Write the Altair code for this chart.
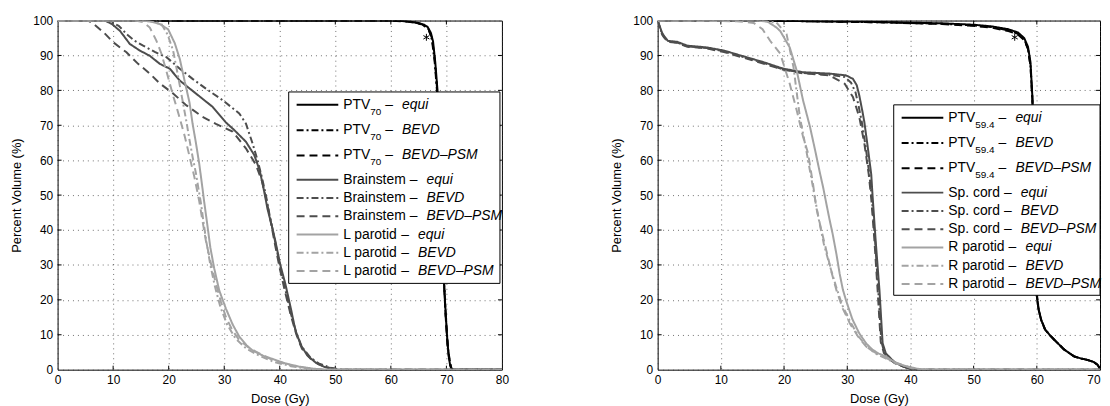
import altair as alt
import pandas as pd

# ---------------- data ----------------
# Left panel: PTV70, Brainstem, L parotid
L_PTV_EQUI_DOSE = [0, 60, 63, 65, 66, 66.6, 67.2, 67.6, 68.0, 68.4, 68.7, 69.0, 69.4, 69.8, 70.1, 70.4, 70.7, 71.0, 80]
L_PTV_EQUI_VOL = [100, 100, 99.8, 99.3, 98.8, 98.2, 96.5, 94, 88, 80, 60, 45, 30, 18, 10, 4, 1, 0, 0]
L_PTV_BEVD_DOSE = [0, 61, 64, 65.8, 66.8, 67.4, 67.9, 68.3, 68.7, 69.1, 69.5, 69.9, 70.3, 70.7, 71.1, 80]
L_PTV_BEVD_VOL = [100, 100, 99.6, 98.8, 97.5, 94.5, 88, 80, 62, 44, 28, 15, 6, 1.5, 0, 0]
L_PTV_PSM_DOSE = [0, 60, 63.5, 65.6, 66.7, 67.4, 67.9, 68.3, 68.6, 69.0, 69.4, 69.8, 70.2, 70.6, 71.0, 80]
L_PTV_PSM_VOL = [100, 100, 99.6, 98.9, 97.8, 95, 89, 81, 65, 48, 31, 17, 7, 2, 0, 0]

L_BS_EQUI_DOSE = [0, 8.5, 9.8, 11.25, 13, 14.8, 16.6, 18.4, 20.2, 22, 24.9, 27.9, 30.3, 31.7, 33.9, 35.4, 36.4, 37.2, 37.8, 38.6, 39.2, 40.1, 41, 42, 42.8, 43.8, 45, 46.5, 48, 50, 80]
L_BS_EQUI_VOL = [100, 100, 99, 97, 93.3, 91.4, 89.9, 87.6, 86.2, 82.8, 79.1, 75.3, 70.8, 68.8, 65.3, 61.5, 57, 51, 46, 41, 36.9, 30, 24.6, 17.5, 11.4, 7, 4, 2, 0.8, 0, 0]
L_BS_BEVD_DOSE = [0, 9, 11, 12.5, 13.9, 15.4, 17.5, 19.6, 22, 24.3, 26.7, 29.7, 32.7, 33.9, 35, 36, 36.8, 37.5, 38.2, 39, 40, 41, 42, 43, 44, 45.5, 47, 49, 51, 80]
L_BS_BEVD_VOL = [100, 100, 98.5, 96, 94.2, 92.8, 91, 89.5, 86.2, 83.3, 80.5, 77.2, 73.4, 70.5, 65.3, 60, 55, 50, 44, 38, 30, 23, 16, 10.5, 6.5, 3.5, 1.8, 0.6, 0, 0]
L_BS_PSM_DOSE = [0, 5.5, 6.5, 8.3, 10, 12.4, 14.5, 16.6, 18.4, 20.8, 23.2, 26.1, 28.5, 31.5, 33.9, 35.7, 36.8, 37.4, 38.2, 39, 40, 41, 42, 43, 44, 45.5, 47, 49, 51, 80]
L_BS_PSM_VOL = [100, 100, 99, 96.6, 93.8, 90.9, 87.6, 84.8, 82, 79.1, 75.7, 72.4, 70.4, 68.2, 63.4, 58.7, 54, 50, 44, 37, 29, 22, 15.5, 10, 6, 3.2, 1.5, 0.5, 0, 0]

L_PAR_EQUI_DOSE = [0, 14, 16.5, 18.4, 19.9, 21.1, 22, 22.9, 23.75, 24.3, 24.9, 25.5, 26, 26.4, 27, 27.5, 28.2, 29.1, 30.3, 31.5, 32.7, 34, 35.1, 37, 39.2, 41, 43.4, 46, 48, 80]
L_PAR_EQUI_VOL = [100, 100, 99.8, 99, 97.5, 93.5, 89, 82.5, 76.5, 70.5, 65, 59, 53, 48, 41, 35, 29, 22.7, 17.5, 13, 9.5, 7, 5.5, 4, 2.8, 1.8, 0.9, 0.3, 0, 0]
L_PAR_BEVD_DOSE = [0, 15, 17.5, 18.7, 19.8, 20.8, 21.7, 22.6, 23.2, 23.75, 24.3, 24.9, 25.4, 25.8, 26.3, 26.8, 27.5, 28.3, 29.3, 30.5, 32, 34, 36.3, 39, 42, 45, 48, 80]
L_PAR_BEVD_VOL = [100, 100, 99.6, 99, 96, 91.4, 84, 76.2, 71, 65.8, 61, 56.3, 51.5, 47.8, 42, 36.5, 30, 24, 18, 13, 9, 6, 4, 2.2, 1, 0.3, 0, 0]
L_PAR_PSM_DOSE = [0, 14, 15.5, 16.6, 17.8, 18.7, 19.5, 20.2, 20.8, 21.4, 22, 22.9, 23.75, 24.6, 25.5, 26.1, 26.7, 27.6, 28.5, 29.4, 30.3, 31.5, 32.7, 34.5, 36.3, 38.3, 40.4, 43, 46, 48, 80]
L_PAR_PSM_VOL = [100, 100, 99.5, 98, 94.2, 90.5, 86, 82, 78.5, 75.3, 72, 66.8, 61.1, 55.4, 48.3, 42.5, 36.9, 30.5, 24.6, 19.5, 15.1, 11.2, 8.5, 6.2, 4.7, 3.1, 1.9, 0.9, 0.2, 0, 0]

L_STAR_DOSE = [66.4]
L_STAR_VOL = [95.2]

# Right panel: PTV59.4, Sp. cord, R parotid
R_PTV_EQUI_DOSE = [0, 20, 35, 45, 50, 53, 55.5, 57, 58, 58.6, 59, 59.3, 59.5, 59.7, 59.9, 60.0, 60.3, 60.7, 61.3, 62, 62.8, 64.3, 65.9, 67, 68, 69, 69.6, 70]
R_PTV_EQUI_VOL = [100, 99.9, 99.6, 99.2, 98.8, 98.3, 97.5, 96.6, 95, 92.5, 88, 78, 65, 45, 28, 21, 17, 14.2, 11.5, 10, 8.5, 5.8, 3.8, 3.2, 2.8, 2.2, 1.4, 0.3]
R_PTV_BEVD_DOSE = [0, 20, 35, 45, 50, 53, 55.5, 57, 58, 58.6, 59, 59.3, 59.5, 59.7, 59.9, 60.05, 60.3, 60.7, 61.3, 62, 62.8, 64.3, 65.9, 67, 68, 69, 69.6, 70]
R_PTV_BEVD_VOL = [100, 99.9, 99.5, 99.1, 98.6, 98.1, 97.2, 96.2, 94.6, 92, 87, 77, 64, 44, 28, 21, 17.2, 14.3, 11.6, 10, 8.5, 5.8, 3.8, 3.2, 2.8, 2.2, 1.4, 0.3]
R_PTV_PSM_DOSE = [0, 20, 35, 45, 50, 53, 55.5, 57, 58, 58.6, 59, 59.3, 59.5, 59.7, 59.9, 60.0, 60.3, 60.7, 61.3, 62, 62.8, 64.3, 65.9, 67, 68, 69, 69.6, 70]
R_PTV_PSM_VOL = [100, 99.9, 99.5, 99.0, 98.5, 97.9, 97.0, 96.0, 94.4, 91.8, 87, 77.5, 64.5, 45, 28.5, 21, 17.1, 14.2, 11.5, 10, 8.5, 5.8, 3.8, 3.2, 2.8, 2.2, 1.4, 0.3]

R_SC_EQUI_DOSE = [0, 0.3, 0.7, 1, 1.6, 3.1, 4.7, 7.8, 10.5, 13.1, 16.7, 19.9, 23, 27.2, 29.8, 30.9, 31.5, 31.9, 32.4, 32.7, 33.2, 33.8, 34, 34.5, 35.1, 35.6, 36.1, 37, 37.7, 39, 40, 41, 70]
R_SC_EQUI_VOL = [100, 98.5, 96.5, 95.6, 94.2, 93.9, 92.8, 92.3, 91.4, 90, 88.1, 86.2, 85.2, 84.8, 84.3, 83.3, 81.5, 78.6, 74, 71, 64.4, 55.9, 50, 36.9, 22.7, 7.6, 4.7, 3, 1.9, 0.8, 0.2, 0, 0]
R_SC_BEVD_DOSE = [0, 0.3, 0.7, 1, 1.6, 3.1, 4.7, 7.8, 10.5, 13.1, 16.7, 19.9, 23, 27.2, 29.6, 30.6, 31.3, 31.8, 32.3, 32.9, 33.5, 33.9, 34.4, 34.9, 35.4, 35.9, 36.8, 37.6, 39, 40, 41, 70]
R_SC_BEVD_VOL = [100, 98.3, 96.2, 95.4, 94, 93.7, 92.6, 92.1, 91.2, 89.8, 87.9, 86, 85, 84.5, 83.8, 82.2, 79.5, 75.5, 71, 64, 56, 49, 37, 23, 8, 4.8, 3, 1.9, 0.8, 0.2, 0, 0]
R_SC_PSM_DOSE = [0, 0.3, 0.7, 1, 1.6, 3.1, 4.7, 7.8, 10.5, 13.1, 16.7, 19.9, 23, 27.2, 29.6, 30.9, 31.9, 32.7, 33.4, 33.8, 34.3, 34.8, 35.3, 35.8, 36.7, 37.5, 39, 40, 41, 70]
R_SC_PSM_VOL = [100, 98.2, 96, 95.2, 93.9, 93.6, 92.5, 92, 91, 89.6, 87.7, 85.9, 84.9, 84.3, 81.9, 78.1, 72.4, 64.9, 56, 49, 37, 23, 8, 4.8, 3, 1.9, 0.8, 0.2, 0, 0]

R_PAR_EQUI_DOSE = [0, 15, 17.3, 18.8, 19.4, 20.9, 22, 23, 24.1, 24.9, 25.6, 26.2, 26.7, 27.2, 27.7, 28.3, 28.8, 29.3, 29.8, 30.8, 31.9, 33, 34, 35, 36.1, 37.7, 39.5, 41, 42, 70]
R_PAR_EQUI_VOL = [100, 100, 99.8, 98, 97, 92.3, 85.7, 77.2, 69.6, 63, 57, 52.1, 47.5, 43, 38.8, 33, 27.5, 23, 19.9, 14.5, 10.4, 7.5, 5.7, 4.6, 3.8, 1.9, 0.9, 0.3, 0, 0]
R_PAR_BEVD_DOSE = [0, 16, 18.8, 20.4, 21.5, 22.5, 23.5, 24.3, 24.9, 25.5, 26.3, 27.2, 28.2, 29.2, 30.4, 31.8, 33.2, 34.6, 36, 37.7, 39.5, 41, 42, 70]
R_PAR_BEVD_VOL = [100, 100, 99.4, 96.1, 86.6, 72.4, 63, 55, 49, 43, 36, 30, 24, 18.5, 14, 9.5, 6.4, 4.5, 3.3, 1.8, 0.8, 0.2, 0, 0]
R_PAR_PSM_DOSE = [0, 12.5, 15.2, 16.6, 17.8, 19.4, 20.9, 22, 23, 23.8, 24.6, 25.1, 25.9, 26.7, 27.5, 28.3, 29.3, 30.4, 31.7, 33, 34.3, 35.6, 37, 38.5, 40, 41.5, 42.5, 70]
R_PAR_PSM_VOL = [100, 99.8, 99.3, 97.5, 94.2, 90.5, 81.9, 74.3, 66.8, 62, 53, 46.4, 40, 34.1, 28, 22.7, 17.5, 13.3, 9.5, 6.6, 5, 3.8, 2.6, 1.5, 0.6, 0.1, 0, 0]

R_STAR_DOSE = [56.5]
R_STAR_VOL = [95.2]

METHODS = ["equi", "BEVD", "BEVD\u2013PSM"]
LEFT_ORGANS = ["PTV", "Brainstem", "L parotid"]
LEFT_SUBS = ["70", "", ""]
RIGHT_ORGANS = ["PTV", "Sp. cord", "R parotid"]
RIGHT_SUBS = ["59.4", "", ""]
LEFT_X_TICKS = [0, 10, 20, 30, 40, 50, 60, 70, 80]
RIGHT_X_TICKS = [0, 10, 20, 30, 40, 50, 60, 70]
Y_TICKS = [0, 10, 20, 30, 40, 50, 60, 70, 80, 90, 100]

# ---------------- styles ----------------
ORGAN_COLORS = ["#000000", "#4d4d4d", "#a3a3a3"]
METHOD_DASHES = [[1, 0], [7, 3, 2, 3], [8, 5]]
FONT = "Liberation Sans"
PLOT_H = 352
TICK_PX = 4

CHAR_W = {'B': 667, 'r': 333, 'a': 556, 'i': 222, 'n': 556, 's': 500, 't': 278, 'e': 556,
          'm': 833, ' ': 278, 'L': 556, 'p': 556, 'o': 556, 'd': 556, 'P': 667, 'T': 611,
          'V': 667, 'S': 667, '.': 278, 'c': 500, 'R': 722, '\u2013': 556}


def text_w(s, size):
    return sum(CHAR_W.get(c, 556) for c in s) * size / 1000.0


def panel(curves, star, organs, subs, xmax, xticks, width, box, flush_last):
    kx = width / xmax
    ky = PLOT_H / 100.0
    if flush_last:
        label_align = {"condition": {"test": "datum.value == %d" % xmax, "value": "right"}, "value": "center"}
    else:
        label_align = "center"
    X = alt.X("dose:Q", scale=alt.Scale(domain=[0, xmax], nice=False, zero=False),
              axis=alt.Axis(values=xticks, title="Dose (Gy)", format="d", labelFlush=False,
                            labelAlign=label_align))
    Y = alt.Y("vol:Q", scale=alt.Scale(domain=[0, 100], nice=False, zero=False),
              axis=alt.Axis(values=Y_TICKS, title="Percent Volume (%)", format="d", labelFlush=False))

    def to_dose(px):
        return px / kx

    def to_vol(py):
        return 100 - py / ky

    layers = []
    # inward tick marks on all four sides (MATLAB style)
    tx_d, tx_d2, tx_v, tx_v2 = [], [], [], []
    for t in xticks[1:-1]:
        tx_d += [t, t]
        tx_d2 += [t, t]
        tx_v += [0, 100]
        tx_v2 += [TICK_PX / ky, 100 - TICK_PX / ky]
    for t in Y_TICKS[1:-1]:
        tx_d += [0, xmax]
        tx_d2 += [TICK_PX / kx, xmax - TICK_PX / kx]
        tx_v += [t, t]
        tx_v2 += [t, t]
    tkdf = pd.DataFrame({"dose": tx_d, "dose2": tx_d2, "vol": tx_v, "vol2": tx_v2})
    layers.append(
        alt.Chart(tkdf).mark_rule(color="black", strokeWidth=1)
        .encode(x=X, x2="dose2:Q", y=Y, y2="vol2:Q")
    )

    for oi in range(3):
        for mi in range(3):
            d, v = curves[oi][mi]
            df = pd.DataFrame({"dose": d, "vol": v, "i": range(len(d))})
            layers.append(
                alt.Chart(df).mark_line(color=ORGAN_COLORS[oi], strokeDash=METHOD_DASHES[mi],
                                        strokeWidth=2, clip=True)
                .encode(x=X, y=Y, order="i:Q")
            )
    sdf = pd.DataFrame({"dose": star[0], "vol": star[1]})
    layers.append(
        alt.Chart(sdf).mark_point(
            shape="M0,-1L0,1M-0.87,-0.5L0.87,0.5M-0.87,0.5L0.87,-0.5",
            size=49, stroke="black", strokeWidth=1, filled=False, opacity=1)
        .encode(x=X, y=Y)
    )

    # legend (positions in plot pixels, converted to data units)
    bx0, by0, bx1, by1 = box
    bdf = pd.DataFrame({"dose": [to_dose(bx0)], "dose2": [to_dose(bx1)],
                        "vol": [to_vol(by0)], "vol2": [to_vol(by1)]})
    layers.append(
        alt.Chart(bdf).mark_rect(fill="white", stroke="black", strokeWidth=1)
        .encode(x=X, x2="dose2:Q", y=Y, y2="vol2:Q")
    )
    row_y = [13, 38.5, 64, 88.5, 107, 125.4, 143.8, 162.2, 180.6]
    names, subsx, subs_t, dashx, methx, methods, ys = [], [], [], [], [], [], []
    r = 0
    for oi in range(3):
        for mi in range(3):
            y = to_vol(by0 + row_y[r])
            tx = bx0 + 55
            nw = text_w(organs[oi], 14)
            sw = text_w(subs[oi], 10)
            names.append(organs[oi])
            subsx.append(to_dose(tx + nw))
            subs_t.append(subs[oi])
            dashx.append(to_dose(tx + nw + sw + 4))
            methx.append(to_dose(tx + nw + sw + 21))
            methods.append(METHODS[mi])
            ys.append(y)
            ldf = pd.DataFrame({"dose": [to_dose(bx0 + 8)], "dose2": [to_dose(bx0 + 50)], "vol": [y]})
            layers.append(
                alt.Chart(ldf).mark_rule(color=ORGAN_COLORS[oi], strokeDash=METHOD_DASHES[mi], strokeWidth=2)
                .encode(x=X, x2="dose2:Q", y=Y)
            )
            r += 1
    tdf = pd.DataFrame({"dose": [to_dose(bx0 + 55)] * 9, "vol": ys, "label": names})
    layers.append(
        alt.Chart(tdf).mark_text(align="left", baseline="middle", font=FONT, fontSize=14, color="black")
        .encode(x=X, y=Y, text="label:N")
    )
    subdf = pd.DataFrame({"dose": subsx, "vol": ys, "label": subs_t})
    subdf = subdf[subdf["label"] != ""]
    layers.append(
        alt.Chart(subdf).mark_text(align="left", baseline="middle", font=FONT, fontSize=10, dy=7, color="black")
        .encode(x=X, y=Y, text="label:N")
    )
    ddf = pd.DataFrame({"dose": dashx, "vol": ys, "label": ["\u2013"] * 9})
    layers.append(
        alt.Chart(ddf).mark_text(align="left", baseline="middle", font=FONT, fontSize=14, color="black")
        .encode(x=X, y=Y, text="label:N")
    )
    mdf = pd.DataFrame({"dose": methx, "vol": ys, "label": methods})
    layers.append(
        alt.Chart(mdf).mark_text(align="left", baseline="middle", font=FONT, fontSize=14,
                                 fontStyle="italic", color="black")
        .encode(x=X, y=Y, text="label:N")
    )
    return alt.layer(*layers).properties(width=width, height=PLOT_H)


left_curves = [
    [(L_PTV_EQUI_DOSE, L_PTV_EQUI_VOL), (L_PTV_BEVD_DOSE, L_PTV_BEVD_VOL), (L_PTV_PSM_DOSE, L_PTV_PSM_VOL)],
    [(L_BS_EQUI_DOSE, L_BS_EQUI_VOL), (L_BS_BEVD_DOSE, L_BS_BEVD_VOL), (L_BS_PSM_DOSE, L_BS_PSM_VOL)],
    [(L_PAR_EQUI_DOSE, L_PAR_EQUI_VOL), (L_PAR_BEVD_DOSE, L_PAR_BEVD_VOL), (L_PAR_PSM_DOSE, L_PAR_PSM_VOL)],
]
right_curves = [
    [(R_PTV_EQUI_DOSE, R_PTV_EQUI_VOL), (R_PTV_BEVD_DOSE, R_PTV_BEVD_VOL), (R_PTV_PSM_DOSE, R_PTV_PSM_VOL)],
    [(R_SC_EQUI_DOSE, R_SC_EQUI_VOL), (R_SC_BEVD_DOSE, R_SC_BEVD_VOL), (R_SC_PSM_DOSE, R_SC_PSM_VOL)],
    [(R_PAR_EQUI_DOSE, R_PAR_EQUI_VOL), (R_PAR_BEVD_DOSE, R_PAR_BEVD_VOL), (R_PAR_PSM_DOSE, R_PAR_PSM_VOL)],
]

left = panel(left_curves, (L_STAR_DOSE, L_STAR_VOL), LEFT_ORGANS, LEFT_SUBS, 80, LEFT_X_TICKS, 448,
             (233, 72, 446, 265), False)
right = panel(right_curves, (R_STAR_DOSE, R_STAR_VOL), RIGHT_ORGANS, RIGHT_SUBS, 70, RIGHT_X_TICKS, 446,
              (238, 85, 446, 277), True)

chart = (
    alt.hconcat(left, right, spacing=101)
    .properties(padding={"left": 2, "top": 4, "right": 0, "bottom": 0}, background="white")
    .configure_view(stroke="black", strokeWidth=1)
    .configure_axis(
        labelFont=FONT, labelFontSize=12, labelColor="black", labelPadding=5,
        titleFont=FONT, titleFontSize=13, titleFontWeight="normal", titleColor="black",
        titlePadding=9, grid=True, gridColor="#333333", gridOpacity=0.7, gridDash=[1, 4],
        gridWidth=1, ticks=False, tickSize=0, domain=False,
    )
    .configure_axisX(titlePadding=7)
)

chart.save("out.html", embed_options={"renderer": "svg", "actions": False})
